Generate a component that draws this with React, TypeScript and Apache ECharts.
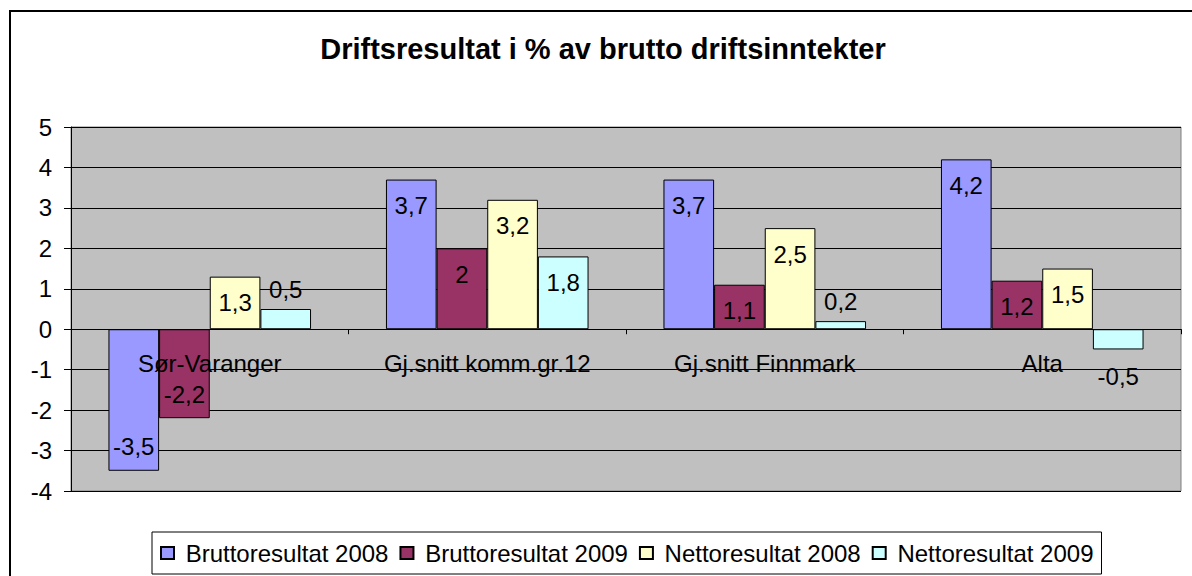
import React, { useEffect, useRef } from "react";
import * as echarts from "echarts";

const categories = ["Sør-Varanger", "Gj.snitt komm.gr.12", "Gj.snitt Finnmark", "Alta"];
const seriesNames = ["Bruttoresultat 2008", "Bruttoresultat 2009", "Nettoresultat 2008", "Nettoresultat 2009"];
const brutto2008 = [-3.5, 3.7, 3.7, 4.2];
const brutto2009 = [-2.2, 2, 1.1, 1.2];
const netto2008 = [1.3, 3.2, 2.5, 1.5];
const netto2009 = [0.5, 1.8, 0.2, -0.5];
const yTicks = { min: -4, max: 5, interval: 1 };
const title = "Driftsresultat i % av brutto driftsinntekter";

const colors = ["#9999FF", "#993366", "#FFFFCC", "#CCFFFF"];
const FONT = "Arial, 'Liberation Sans', sans-serif";

const GRID_TOP = 127;
const GRID_BOTTOM_PX = 491;

function labelFor(v: number) {
  if (v >= 1) return { position: "insideTop", distance: 14 };
  if (v >= 0) return { position: "top", distance: 8 };
  if (v <= -1) return { position: "insideBottom", distance: 12 };
  return { position: "bottom", distance: 15 };
}

export default function App() {
  const ref = useRef<HTMLDivElement>(null);
  useEffect(() => {
    document.body.style.margin = "0";
    const chart = echarts.init(ref.current!, null, { renderer: "svg" });
    const allSeries = [brutto2008, brutto2009, netto2008, netto2009];
    // pixel distance from the grid bottom (min) up to the zero line
    const plotH = GRID_BOTTOM_PX - GRID_TOP;
    const zeroShift = (plotH * (0 - yTicks.min)) / (yTicks.max - yTicks.min);
    chart.setOption({
      animation: false,
      backgroundColor: "#ffffff",
      graphic: [
        {
          type: "rect",
          z: -10,
          shape: { x: 10, y: 11, width: 1200, height: 600 },
          style: { fill: "none", stroke: "#000", lineWidth: 2 },
        },
        {
          type: "text",
          x: 603,
          y: 49,
          style: {
            text: title,
            fontSize: 29,
            fontWeight: "bold",
            fontFamily: FONT,
            fill: "#000",
            align: "center",
            verticalAlign: "middle",
          },
        },
      ],
      grid: {
        left: 71,
        right: 11,
        top: GRID_TOP,
        bottom: 576 - GRID_BOTTOM_PX,
        show: true,
        backgroundColor: "#C0C0C0",
        borderColor: "#808080",
        borderWidth: 1,
        containLabel: false,
      },
      legend: {
        data: seriesNames,
        left: 152,
        top: 532,
        icon: "rect",
        itemWidth: 13,
        itemHeight: 12,
        itemGap: 11,
        padding: [9, 8],
        backgroundColor: "#fff",
        borderColor: "#000",
        borderWidth: 1,
        formatter: (name: string) => " " + name,
        textStyle: { fontSize: 24, color: "#000", fontFamily: FONT },
      },
      xAxis: {
        type: "category",
        data: categories,
        z: 10,
        offset: -zeroShift,
        axisLine: { onZero: false, lineStyle: { color: "#000", width: 1 } },
        axisTick: { show: true, length: 5, lineStyle: { color: "#000" } },
        axisLabel: { margin: 22, fontSize: 24, color: "#000", fontFamily: FONT },
        splitLine: { show: false },
      },
      yAxis: {
        type: "value",
        min: yTicks.min,
        max: yTicks.max,
        interval: yTicks.interval,
        axisLine: { show: true, lineStyle: { color: "#000", width: 1 } },
        axisTick: { show: true, length: 7, lineStyle: { color: "#000" } },
        axisLabel: { margin: 19, fontSize: 24, color: "#000", fontFamily: FONT },
        splitLine: { show: true, lineStyle: { color: "#000", width: 1 } },
      },
      series: allSeries.map((vals, si) => ({
        type: "bar",
        name: seriesNames[si],
        barGap: "0%",
        barCategoryGap: "27%",
        itemStyle: { color: colors[si], borderColor: "#000", borderWidth: 1 },
        data: vals.map((v) => ({
          value: v,
          label: {
            show: true,
            ...labelFor(v),
            color: "#000",
            fontSize: 24,
            fontFamily: FONT,
            formatter: (p: any) => String(p.value).replace(".", ","),
          },
        })),
      })),
    });
    return () => chart.dispose();
  }, []);
  return (
    <div
      ref={ref}
      style={{ position: "absolute", left: 0, top: 0, width: 1192, height: 576 }}
    />
  );
}
